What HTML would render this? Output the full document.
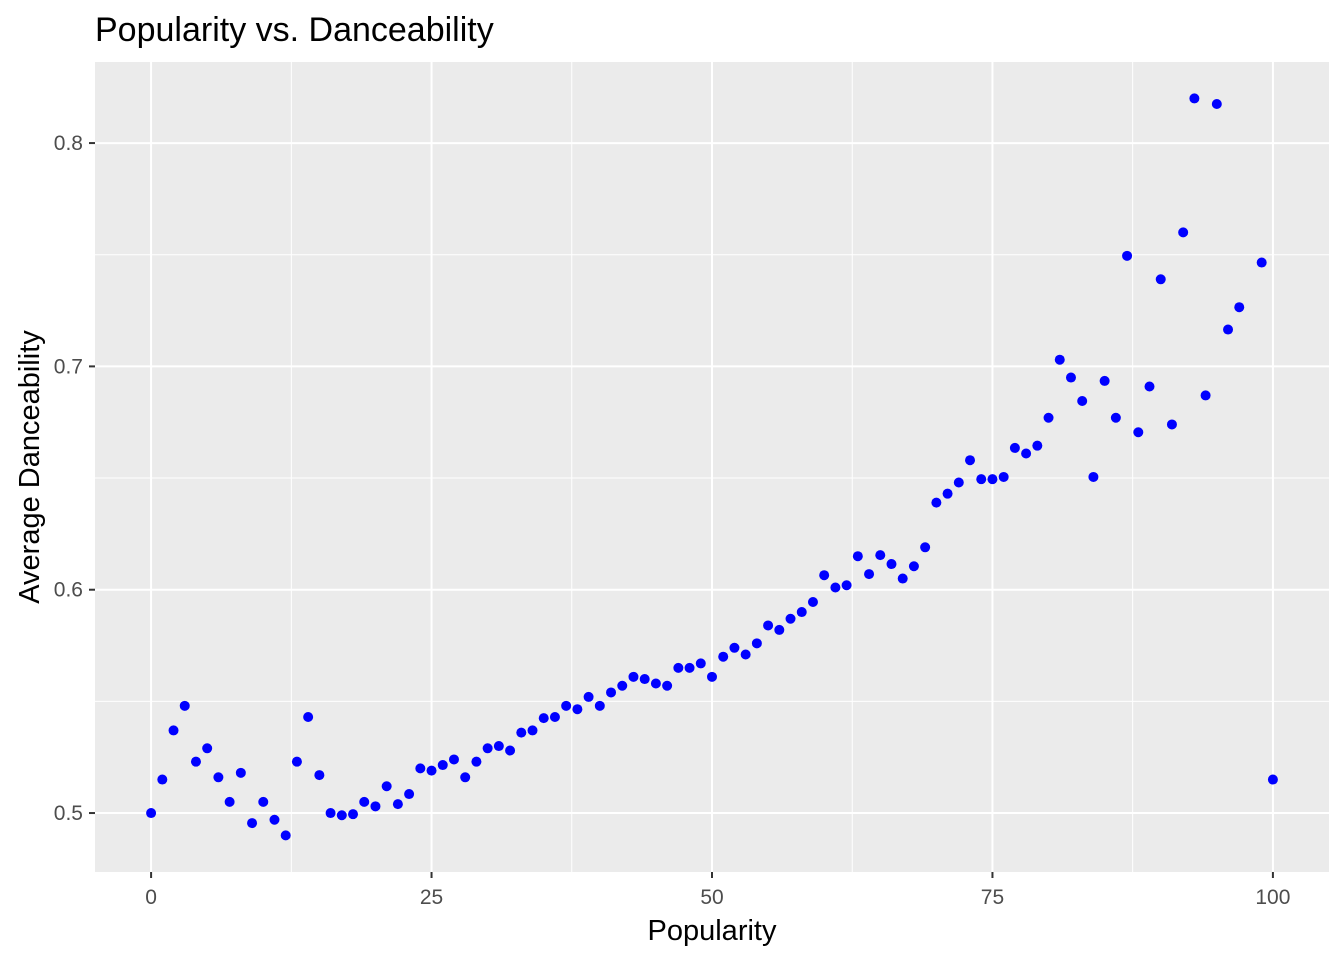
<!DOCTYPE html>
<html><head><meta charset="utf-8"><style>
html,body{margin:0;padding:0;background:#fff;}
svg text{font-family:"Liberation Sans",Arial,sans-serif;}
</style></head><body>
<svg id="chart" width="1344" height="960" xmlns="http://www.w3.org/2000/svg">
<rect x="0" y="0" width="1344" height="960" fill="#fff"/>
<text x="95" y="41" font-size="34" fill="#000">Popularity vs. Danceability</text>
<rect x="95" y="62" width="1234" height="810" fill="#ebebeb"/>
<g id="grid"></g><g id="points"></g><g id="axes"></g>
<text x="712" y="940" font-size="29" text-anchor="middle" fill="#000">Popularity</text>
<text transform="translate(39,467) rotate(-90)" font-size="29" text-anchor="middle" fill="#000">Average Danceability</text>
</svg>
<script>
const popularity=[0,1,2,3,4,5,6,7,8,9,10,11,12,13,14,15,16,17,18,19,20,21,22,23,24,25,26,27,28,29,30,31,32,33,34,35,36,37,38,39,40,41,42,43,44,45,46,47,48,49,50,51,52,53,54,55,56,57,58,59,60,61,62,63,64,65,66,67,68,69,70,71,72,73,74,75,76,77,78,79,80,81,82,83,84,85,86,87,88,89,90,91,92,93,94,95,96,97,99,100];
const danceability=[0.500,0.515,0.537,0.548,0.523,0.529,0.516,0.505,0.518,0.4955,0.505,0.497,0.490,0.523,0.543,0.517,0.500,0.499,0.4995,0.505,0.503,0.512,0.504,0.5085,0.520,0.519,0.5215,0.524,0.516,0.523,0.529,0.530,0.528,0.536,0.537,0.5425,0.543,0.548,0.5465,0.552,0.548,0.554,0.557,0.561,0.560,0.558,0.557,0.565,0.565,0.567,0.561,0.570,0.574,0.571,0.576,0.584,0.582,0.587,0.590,0.5945,0.6065,0.601,0.602,0.615,0.607,0.6155,0.6115,0.605,0.6105,0.619,0.639,0.643,0.648,0.658,0.6495,0.6495,0.6505,0.6635,0.661,0.6645,0.677,0.703,0.695,0.6845,0.6505,0.6935,0.677,0.7495,0.6705,0.691,0.739,0.674,0.760,0.820,0.687,0.8175,0.7165,0.7265,0.7465,0.515];
const xTicks=[0,25,50,75,100];
const xMinor=[12.5,37.5,62.5,87.5];
const yTicks=[0.5,0.6,0.7,0.8];
const yMinor=[0.55,0.65,0.75];
const PX0=95,PX1=1329,PY0=62,PY1=872;
const xDom=[-5,105],yDom=[0.4736,0.8363];
const sx=v=>PX0+(v-xDom[0])/(xDom[1]-xDom[0])*(PX1-PX0);
const sy=v=>PY1-(v-yDom[0])/(yDom[1]-yDom[0])*(PY1-PY0);
const NS='http://www.w3.org/2000/svg';
const grid=document.getElementById('grid'),pts=document.getElementById('points'),axes=document.getElementById('axes');
function line(p,x1,y1,x2,y2,w,c){const l=document.createElementNS(NS,'line');l.setAttribute('x1',x1);l.setAttribute('y1',y1);l.setAttribute('x2',x2);l.setAttribute('y2',y2);l.setAttribute('stroke',c);l.setAttribute('stroke-width',w);p.appendChild(l);return l;}
xMinor.forEach(v=>{const l=line(grid,sx(v),PY0,sx(v),PY1,1,'#fff');

});
yMinor.forEach(v=>{const l=line(grid,PX0,sy(v),PX1,sy(v),1,'#fff');

});
xTicks.forEach(v=>{const l=line(grid,sx(v),PY0,sx(v),PY1,2,'#fff');


const t=line(axes,sx(v),PY1,sx(v),PY1+6,2,'#333');


const tx=document.createElementNS(NS,'text');tx.setAttribute('x',sx(v));tx.setAttribute('y',PY1+32);tx.setAttribute('text-anchor','middle');tx.setAttribute('font-size','21');tx.setAttribute('fill','#4d4d4d');tx.textContent=v;


axes.appendChild(tx);});
yTicks.forEach(v=>{const l=line(grid,PX0,sy(v),PX1,sy(v),2,'#fff');


const t=line(axes,PX0-6,sy(v),PX0,sy(v),2,'#333');


const tx=document.createElementNS(NS,'text');tx.setAttribute('x',PX0-12);tx.setAttribute('y',sy(v)+7);tx.setAttribute('text-anchor','end');tx.setAttribute('font-size','21');tx.setAttribute('fill','#4d4d4d');tx.textContent=v.toFixed(1);


axes.appendChild(tx);});
popularity.forEach((p,i)=>{const c=document.createElementNS(NS,'circle');c.setAttribute('cx',sx(p));c.setAttribute('cy',sy(danceability[i]));c.setAttribute('r','5');c.setAttribute('fill','#0000ff');


pts.appendChild(c);});
</script>
</body></html>
